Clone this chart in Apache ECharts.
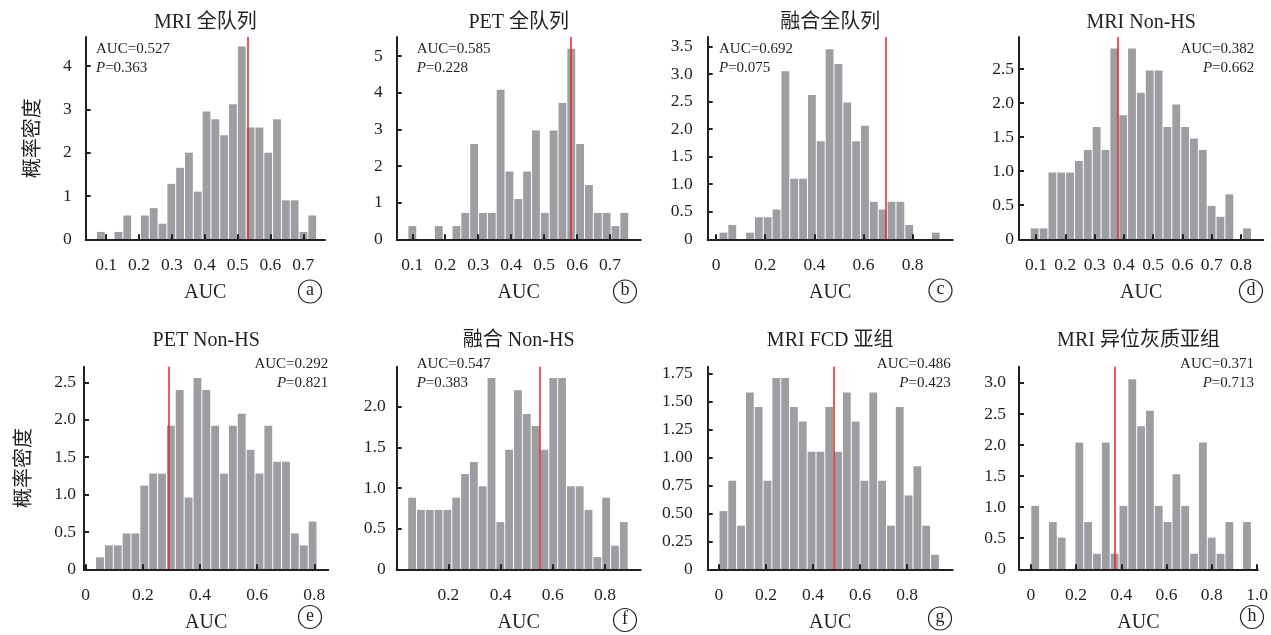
<!DOCTYPE html>
<html>
<head>
<meta charset="utf-8">
<script src="https://cdn.jsdelivr.net/npm/echarts@6/dist/echarts.min.js"></script>
<style>
  html, body { margin: 0; padding: 0; background: #fff; }
  #chart { width: 1271px; height: 635px; }
</style>
</head>
<body>
<div id="chart"></div>
<script>
// 各子图标题
const panelTitles = ['MRI 全队列', 'PET 全队列', '融合全队列', 'MRI Non-HS',
  'PET Non-HS', '融合 Non-HS', 'MRI FCD 亚组', 'MRI 异位灰质亚组']
const panelTags = ['a', 'b', 'c', 'd', 'e', 'f', 'g', 'h']

// 实际 AUC 与置换检验 P 值
const aucObserved = [0.527, 0.585, 0.692, 0.382, 0.292, 0.547, 0.486, 0.371]
const pValues = ['0.363', '0.228', '0.075', '0.662', '0.821', '0.383', '0.423', '0.713']

// 直方图分箱：第一个箱左边界、箱宽（AUC）
const binStart = [0.0706, 0.0866, 0.012, 0.0805, 0.0345, 0.0441, 0.0, 0.0]
const binWidth = [0.0268, 0.0268, 0.036, 0.0302, 0.031, 0.0338, 0.0375, 0.039]

// 每箱概率密度
const densityA = [0.17, 0, 0.17, 0.55, 0, 0.55, 0.72, 0.36, 1.28, 1.65, 2.0, 1.1, 2.95, 2.77, 2.4, 3.12, 4.45, 2.58, 2.58, 2.0, 2.77, 0.9, 0.9, 0.17, 0.55]
const densityB = [0.36, 0, 0, 0.36, 0, 0.36, 0.72, 2.6, 0.72, 0.72, 4.08, 1.85, 1.1, 1.85, 2.97, 0.72, 2.97, 3.72, 5.2, 2.6, 1.48, 0.72, 0.72, 0.36, 0.72]
const densityC = [0.12, 0.26, 0, 0.12, 0.4, 0.4, 0.54, 3.05, 1.1, 1.1, 2.62, 1.78, 3.45, 3.18, 2.48, 1.78, 2.06, 0.68, 0.54, 0.68, 0.68, 0.26, 0, 0, 0.12]
const densityD = [0.16, 0.16, 0.98, 0.98, 0.98, 1.15, 1.31, 1.65, 1.31, 2.8, 1.82, 2.8, 2.15, 2.48, 2.48, 1.65, 1.98, 1.65, 1.48, 1.31, 0.49, 0.33, 0.66, 0, 0.16]
const densityE = [0.16, 0.32, 0.32, 0.48, 0.48, 1.12, 1.28, 1.28, 1.92, 2.4, 0.96, 2.56, 2.4, 1.92, 1.28, 1.92, 2.08, 1.6, 1.28, 1.92, 1.44, 1.44, 0.48, 0.32, 0.64]
const densityF = [0.88, 0.73, 0.73, 0.73, 0.73, 0.88, 1.17, 1.32, 1.02, 2.35, 0.58, 1.47, 2.2, 1.91, 1.76, 1.47, 2.35, 2.35, 1.02, 1.02, 0.73, 0.15, 0.88, 0.29, 0.58]
const densityG = [0.52, 0.79, 0.39, 1.58, 1.45, 0.79, 1.71, 1.71, 1.45, 1.32, 1.05, 1.05, 1.45, 1.05, 1.58, 1.32, 0.79, 1.58, 0.79, 0.39, 1.45, 0.66, 0.92, 0.39, 0.13]
const densityH = [1.02, 0, 0.76, 0.51, 0, 2.04, 0.76, 0.25, 2.04, 0.25, 1.02, 3.06, 2.3, 2.55, 1.02, 0.76, 1.53, 1.02, 0.25, 2.04, 0.51, 0.25, 0.76, 0, 0.76]
const densities = [densityA, densityB, densityC, densityD, densityE, densityF, densityG, densityH]

// 坐标轴范围
const xMin = [0.038, 0.0527, -0.034, 0.042, -0.006, 0.002, -0.048, -0.052]
const xMax = [0.766, 0.793, 0.963, 0.876, 0.849, 0.937, 0.994, 1.003]
const yMax = [4.67, 5.52, 3.67, 2.97, 2.71, 2.49, 1.81, 3.26]

// 刻度标签
const xTickLabels = [
  ['0.1', '0.2', '0.3', '0.4', '0.5', '0.6', '0.7'],
  ['0.1', '0.2', '0.3', '0.4', '0.5', '0.6', '0.7'],
  ['0', '0.2', '0.4', '0.6', '0.8'],
  ['0.1', '0.2', '0.3', '0.4', '0.5', '0.6', '0.7', '0.8'],
  ['0', '0.2', '0.4', '0.6', '0.8'],
  ['0.2', '0.4', '0.6', '0.8'],
  ['0', '0.2', '0.4', '0.6', '0.8'],
  ['0', '0.2', '0.4', '0.6', '0.8', '1.0'],
]
const yTickLabels = [
  ['0', '1', '2', '3', '4'],
  ['0', '1', '2', '3', '4', '5'],
  ['0', '0.5', '1.0', '1.5', '2.0', '2.5', '3.0', '3.5'],
  ['0', '0.5', '1.0', '1.5', '2.0', '2.5'],
  ['0', '0.5', '1.0', '1.5', '2.0', '2.5'],
  ['0', '0.5', '1.0', '1.5', '2.0'],
  ['0', '0.25', '0.50', '0.75', '1.00', '1.25', '1.50', '1.75'],
  ['0', '0.5', '1.0', '1.5', '2.0', '2.5', '3.0'],
]

// 版式
const INK = '#231f20'
const BAR = '#9d9ea2'
const RED = '#e3262b'
const SERIF = "'Liberation Serif', 'Noto Sans CJK SC', serif"
const CJK = "'Noto Sans CJK SC', sans-serif"

const grids = [
  { left: 85.7, width: 239.3, top: 37, bottom: 395.7 },
  { left: 396.7, width: 244, top: 37, bottom: 395.7 },
  { left: 707.7, width: 245, top: 37, bottom: 395.7 },
  { left: 1019, width: 244.3, top: 37, bottom: 395.7 },
  { left: 84, width: 244.3, top: 366.7, bottom: 65.7 },
  { left: 396.7, width: 244, top: 366.7, bottom: 65.7 },
  { left: 707.7, width: 245, top: 366.7, bottom: 65.7 },
  { left: 1019, width: 239, top: 366.7, bottom: 65.7 },
]
const titleY = [22.7, 22.7, 22.7, 22.7, 340.7, 340.7, 340.7, 340.7]
const yLabelMargin = [14, 14, 15, 5, 8, 11, 15, 13]
// 注释文字：左对齐 / 右对齐
const noteAlign = ['left', 'left', 'left', 'right', 'right', 'left', 'right', 'right']
const noteX = [96, 416.7, 719, 1254.3, 328.3, 416.7, 950.7, 1254]
const noteY = [[49.3, 67.7], [49.3, 67.7], [49.3, 67.7], [49.3, 67.7],
  [363.8, 383.3], [363.8, 383.3], [363.8, 383.3], [363.8, 383.3]]
const tagPos = [[310, 291.5], [625, 291.5], [940.5, 290.5], [1251, 291],
  [310, 617], [625, 620], [940, 618.5], [1252, 617]]

const chart = echarts.init(document.getElementById('chart'), null, { renderer: 'canvas' })

const gridOpt = [], xAxes = [], yAxes = [], series = [], graphics = []

for (let i = 0; i < 8; i++) {
  const g = grids[i]
  gridOpt.push({ left: g.left, width: g.width, top: g.top, bottom: g.bottom, containLabel: false })

  const xl = xTickLabels[i]
  xAxes.push({
    type: 'value', gridIndex: i, min: xMin[i], max: xMax[i], z: 5,
    name: 'AUC', nameLocation: 'middle', nameGap: 43,
    nameTextStyle: { fontFamily: SERIF, fontSize: 20, color: INK },
    splitLine: { show: false },
    axisLine: { onZero: false, lineStyle: { color: INK, width: 2 } },
    axisTick: { inside: true, length: 5, customValues: xl.map(Number), lineStyle: { color: INK, width: 2 } },
    axisLabel: {
      customValues: xl.map(Number), margin: 17, fontFamily: SERIF, fontSize: 17.5, color: INK,
      formatter: v => xl.find(s => Math.abs(Number(s) - v) < 1e-9) || ''
    },
  })

  const yl = yTickLabels[i]
  const yAxis = {
    type: 'value', gridIndex: i, min: 0, max: yMax[i], z: 5,
    splitLine: { show: false },
    axisLine: { show: true, onZero: false, lineStyle: { color: INK, width: 2 } },
    axisTick: { show: true, inside: true, length: 5, customValues: yl.map(Number), lineStyle: { color: INK, width: 2 } },
    axisLabel: {
      customValues: yl.map(Number), margin: yLabelMargin[i], fontFamily: SERIF, fontSize: 17.5, color: INK,
      formatter: v => yl.find(s => Math.abs(Number(s) - v) < 1e-9) || ''
    },
  }
  if (i === 0 || i === 4) {
    Object.assign(yAxis, {
      name: '概率密度', nameLocation: 'middle', nameGap: i === 0 ? 44 : 52,
      nameTextStyle: { fontFamily: CJK, fontSize: 20, color: INK },
    })
  }
  yAxes.push(yAxis)

  const w = binWidth[i]
  series.push({
    type: 'custom', xAxisIndex: i, yAxisIndex: i, z: 2,
    data: densities[i].map((d, k) => [binStart[i] + (k + 0.5) * w, d]),
    renderItem: (params, api) => {
      const c = api.value(0), h = api.value(1)
      if (!h) return null
      const p0 = api.coord([c - w / 2, h])
      const p1 = api.coord([c + w / 2, 0])
      return {
        type: 'rect',
        shape: { x: p0[0] + 0.5, y: p0[1], width: p1[0] - p0[0] - 1, height: p1[1] - p0[1] },
        style: { fill: BAR },
      }
    },
  })
  // 实际 AUC 红线
  series.push({
    type: 'line', xAxisIndex: i, yAxisIndex: i, data: [], z: 4, silent: true,
    markLine: {
      symbol: 'none', silent: true, animation: false,
      label: { show: false },
      lineStyle: { color: RED, width: 1.5, type: 'solid' },
      data: [{ xAxis: aucObserved[i] }],
    },
  })

  // 标题
  graphics.push({
    type: 'text', x: g.left + g.width / 2, y: titleY[i],
    style: { text: panelTitles[i], fill: INK, font: `20px ${SERIF}`, align: 'center', verticalAlign: 'middle' },
  })
  // AUC / P 注释
  graphics.push({
    type: 'text', x: noteX[i], y: noteY[i][0],
    style: { text: 'AUC=' + aucObserved[i].toFixed(3), fill: INK, font: `15px ${SERIF}`, align: noteAlign[i], verticalAlign: 'middle' },
  })
  graphics.push({
    type: 'text', x: noteX[i], y: noteY[i][1],
    style: {
      text: '{i|P}=' + pValues[i], fill: INK, font: `15px ${SERIF}`, align: noteAlign[i], verticalAlign: 'middle',
      rich: { i: { fontStyle: 'italic', fontFamily: SERIF, fontSize: 15, fill: INK } },
    },
  })
  // 圆圈字母
  graphics.push({
    type: 'circle', shape: { cx: tagPos[i][0], cy: tagPos[i][1], r: 11.5 },
    style: { fill: 'none', stroke: INK, lineWidth: 1.2 },
  })
  graphics.push({
    type: 'text', x: tagPos[i][0], y: tagPos[i][1] - 1,
    style: { text: panelTags[i], fill: INK, font: `18px ${SERIF}`, align: 'center', verticalAlign: 'middle' },
  })
}

chart.setOption({
  animation: false,
  backgroundColor: '#fff',
  grid: gridOpt,
  xAxis: xAxes,
  yAxis: yAxes,
  series: series,
  graphic: { elements: graphics },
})
</script>
</body>
</html>
